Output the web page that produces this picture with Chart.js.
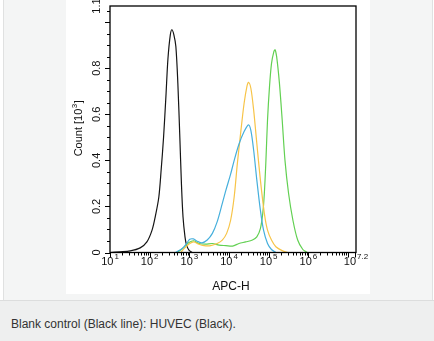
<!DOCTYPE html>
<html>
<head>
<meta charset="utf-8">
<script src="https://cdn.jsdelivr.net/npm/chart.js@4.4.1/dist/chart.umd.min.js"></script>
<style>
  html, body { margin: 0; padding: 0; background: #fff; }
  body { width: 434px; height: 341px; position: relative; overflow: hidden; font-family: "Liberation Sans", Arial, sans-serif; }
  #panel { position: absolute; left: 3px; top: 0; width: 430px; height: 300px; background: #f4f5f5; border-left: 1px solid #e0e1e1; border-right: 1px solid #e0e1e1; box-sizing: border-box; }
  #plot { position: absolute; left: 66px; top: 0; width: 304px; height: 294px; background: #fff; }
  #caption { position: absolute; left: 0; top: 300px; width: 434px; height: 41px; background: #eeefef; border-top: 1px solid #dcdddd; box-sizing: border-box; font-size: 12px; color: #333; padding-left: 11px; line-height: 46px; white-space: nowrap; }
</style>
</head>
<body>
<div id="panel"></div>
<div id="plot"><canvas id="histo" width="304" height="294"></canvas></div>
<div id="caption">Blank control (Black line): HUVEC (Black).</div>

<script>
// ── Axis ranges & tick labels ─────────────────────────
const X_MIN_EXP = 1;
const X_MAX_EXP = 7.2;
const Y_MAX = 1.07;
const X_TICK_EXP = [1, 2, 3, 4, 5, 6, 7.2];
const X_TICK_SUP = ['1', '2', '3', '4', '5', '6', '7.2'];
const Y_TICKS = [0, 0.2, 0.4, 0.6, 0.8];
const Y_TICK_LABELS = ['0', '0.2', '0.4', '0.6', '0.8'];
const Y_TOP_LABEL = '1.1';
const X_TITLE = 'APC-H';
const Y_TITLE = ['Count [10', '3', ']'];

// ── Histogram series (x as log10 of APC-H, y in 10^3 events) ──
const BLACK_EXP   = [1.0, 1.25, 1.51, 1.76, 1.93, 2.06, 2.14, 2.23, 2.29, 2.35, 2.41, 2.46, 2.52, 2.56, 2.61, 2.66, 2.71, 2.76, 2.80, 2.84, 2.89, 2.93, 2.99, 3.07];
const BLACK_COUNT = [0, 0.003, 0.007, 0.02, 0.046, 0.097, 0.155, 0.24, 0.36, 0.50, 0.68, 0.84, 0.945, 0.967, 0.945, 0.894, 0.735, 0.50, 0.30, 0.155, 0.068, 0.032, 0.01, 0];

const CYAN_EXP   = [2.65, 2.82, 2.93, 3.01, 3.10, 3.20, 3.32, 3.45, 3.58, 3.70, 3.81, 3.92, 4.04, 4.13, 4.25, 4.38, 4.49, 4.55, 4.62, 4.70, 4.79, 4.87, 4.97, 5.07, 5.18];
const CYAN_COUNT = [0, 0.017, 0.039, 0.057, 0.059, 0.049, 0.042, 0.054, 0.083, 0.133, 0.20, 0.27, 0.34, 0.40, 0.47, 0.525, 0.554, 0.53, 0.445, 0.315, 0.184, 0.097, 0.039, 0.013, 0];

const YELLOW_EXP   = [2.78, 2.90, 3.01, 3.11, 3.24, 3.37, 3.54, 3.70, 3.83, 3.94, 4.04, 4.13, 4.21, 4.30, 4.38, 4.45, 4.49, 4.55, 4.62, 4.70, 4.79, 4.89, 4.97, 5.07, 5.18, 5.35, 5.48];
const YELLOW_COUNT = [0, 0.022, 0.039, 0.046, 0.036, 0.03, 0.03, 0.039, 0.054, 0.083, 0.14, 0.242, 0.387, 0.53, 0.648, 0.72, 0.739, 0.713, 0.619, 0.474, 0.315, 0.17, 0.097, 0.054, 0.025, 0.007, 0];

const GREEN_EXP   = [2.69, 2.86, 2.99, 3.11, 3.24, 3.41, 3.58, 3.75, 3.92, 4.09, 4.25, 4.42, 4.59, 4.70, 4.79, 4.85, 4.89, 4.93, 4.97, 5.02, 5.07, 5.13, 5.16, 5.20, 5.27, 5.34, 5.41, 5.50, 5.61, 5.73, 5.86, 5.97];
const GREEN_COUNT = [0, 0.022, 0.043, 0.051, 0.039, 0.036, 0.039, 0.032, 0.03, 0.028, 0.039, 0.046, 0.054, 0.068, 0.104, 0.17, 0.257, 0.40, 0.575, 0.72, 0.82, 0.872, 0.88, 0.85, 0.735, 0.575, 0.40, 0.257, 0.14, 0.054, 0.013, 0];

const FONT = '"Liberation Sans", Arial, sans-serif';

function toPoints(exps, counts) {
  return exps.map((e, i) => ({ x: Math.pow(10, e), y: counts[i] }));
}

// ── Frame, ticks and labels drawn off the chart scales ──
const axisFrame = {
  id: 'axisFrame',
  afterDraw(chart) {
    const { ctx, chartArea: a, scales: { x, y } } = chart;
    ctx.save();
    ctx.strokeStyle = '#000';
    ctx.fillStyle = '#111';

    // x ticks: decades long, 2..9 short
    ctx.lineWidth = 1;
    ctx.beginPath();
    for (let d = X_MIN_EXP; d <= 7; d++) {
      for (let m = 1; m <= 9; m++) {
        const v = m * Math.pow(10, d);
        if (v > x.max) break;
        const px = Math.round(x.getPixelForValue(v)) + 0.5;
        ctx.moveTo(px, a.bottom);
        ctx.lineTo(px, a.bottom + (m === 1 ? 5 : 3));
      }
    }
    const pr = Math.round(x.getPixelForValue(x.max)) - 0.5;
    ctx.moveTo(pr, a.bottom); ctx.lineTo(pr, a.bottom + 5);

    // y ticks: every 0.2 long, every 0.05 short
    for (let k = 0; k * 0.05 <= Y_MAX + 1e-9; k++) {
      const py = Math.round(y.getPixelForValue(k * 0.05)) + 0.5;
      ctx.moveTo(a.left, py);
      ctx.lineTo(a.left - (k % 4 === 0 ? 5 : 3), py);
    }
    ctx.stroke();

    // box
    ctx.lineWidth = 1.3;
    ctx.strokeRect(a.left, a.top, a.right - a.left, a.bottom - a.top);

    // x tick labels with superscript exponents
    ctx.textBaseline = 'alphabetic';
    ctx.textAlign = 'left';
    X_TICK_EXP.forEach((e, i) => {
      const px = x.getPixelForValue(Math.pow(10, e));
      ctx.font = '11px ' + FONT;
      const wBase = ctx.measureText('10').width;
      ctx.font = '8px ' + FONT;
      const wSup = ctx.measureText(X_TICK_SUP[i]).width;
      const x0 = px - (wBase + 1 + wSup) / 2;
      ctx.font = '11px ' + FONT;
      ctx.fillText('10', x0, a.bottom + 12);
      ctx.font = '8px ' + FONT;
      ctx.fillText(X_TICK_SUP[i], x0 + wBase + 1, a.bottom + 6);
    });

    // x title
    ctx.font = '12px ' + FONT;
    ctx.textAlign = 'center';
    ctx.fillText(X_TITLE, (a.left + a.right) / 2 - 2, a.bottom + 37);

    // y tick labels (rotated)
    ctx.font = '11px ' + FONT;
    const yLabel = (txt, py) => {
      ctx.save();
      ctx.translate(a.left - 10, py);
      ctx.rotate(-Math.PI / 2);
      ctx.textAlign = 'center';
      ctx.fillText(txt, 0, 0);
      ctx.restore();
    };
    Y_TICKS.forEach((v, i) => yLabel(Y_TICK_LABELS[i], y.getPixelForValue(v)));
    yLabel(Y_TOP_LABEL, y.getPixelForValue(Y_MAX));

    // y title with superscript
    ctx.save();
    ctx.translate(a.left - 28, (a.top + a.bottom) / 2 - 1);
    ctx.rotate(-Math.PI / 2);
    ctx.textAlign = 'left';
    ctx.font = '11px ' + FONT;
    const w0 = ctx.measureText(Y_TITLE[0]).width;
    const w2 = ctx.measureText(Y_TITLE[2]).width;
    ctx.font = '8px ' + FONT;
    const w1 = ctx.measureText(Y_TITLE[1]).width;
    let tx = -(w0 + w1 + w2 + 1) / 2;
    ctx.font = '11px ' + FONT;
    ctx.fillText(Y_TITLE[0], tx, 0);
    ctx.font = '8px ' + FONT;
    ctx.fillText(Y_TITLE[1], tx + w0 + 0.5, -5);
    ctx.font = '11px ' + FONT;
    ctx.fillText(Y_TITLE[2], tx + w0 + w1 + 1, 0);
    ctx.restore();

    ctx.restore();
  }
};

const line = (label, exps, counts, color) => ({
  label,
  data: toPoints(exps, counts),
  borderColor: color,
  backgroundColor: 'transparent',
  borderWidth: 1.2,
  pointRadius: 0,
  tension: 0.3,
  fill: false
});

new Chart(document.getElementById('histo').getContext('2d'), {
  type: 'line',
  data: {
    datasets: [
      line('Cyan', CYAN_EXP, CYAN_COUNT, '#45afdc'),
      line('Yellow', YELLOW_EXP, YELLOW_COUNT, '#f7c448'),
      line('Green', GREEN_EXP, GREEN_COUNT, '#62d052'),
      line('Blank control', BLACK_EXP, BLACK_COUNT, '#151515')
    ]
  },
  options: {
    responsive: false,
    animation: false,
    layout: { padding: { left: 44, right: 14, top: 6, bottom: 41.5 } },
    plugins: { legend: { display: false }, tooltip: { enabled: false } },
    scales: {
      x: { type: 'logarithmic', min: Math.pow(10, X_MIN_EXP), max: Math.pow(10, X_MAX_EXP), display: false },
      y: { type: 'linear', min: 0, max: Y_MAX, display: false }
    }
  },
  plugins: [axisFrame]
});
</script>
</body>
</html>
